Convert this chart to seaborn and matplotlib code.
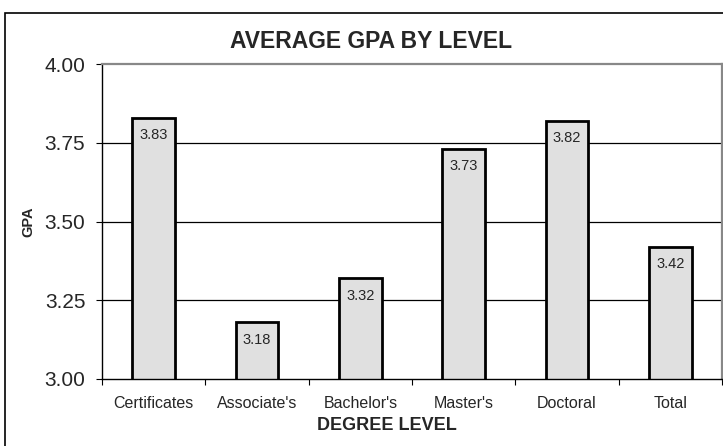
import matplotlib
matplotlib.use("Agg")
import numpy as np
import pandas as pd
import matplotlib.pyplot as plt
import seaborn as sns
from matplotlib.patches import Rectangle

levels = ["Certificates", "Associate's", "Bachelor's", "Master's", "Doctoral", "Total"]
gpa = [3.83, 3.18, 3.32, 3.73, 3.82, 3.42]
yticks = [3.00, 3.25, 3.50, 3.75, 4.00]

df = pd.DataFrame({"level": levels, "gpa": gpa})

sns.set_theme(style="white")
plt.rcParams['font.family'] = ['Liberation Sans', 'DejaVu Sans']

fig = plt.figure(figsize=(7.23, 4.46), dpi=100)
ax = fig.add_axes([102 / 723, 1 - 379 / 446, 620 / 723, 315 / 446])

sns.barplot(data=df, x="level", y="gpa", order=levels, color="#e0e0e0",
            edgecolor="black", linewidth=2.0, width=0.41, saturation=1, ax=ax)

ax.set_ylim(3.0, 4.0)
ax.set_xlim(-0.5, len(levels) - 0.5)
ax.set_yticks(yticks)
ax.set_yticklabels(["%.2f" % v for v in yticks], fontsize=15)
for v in yticks[1:-1]:
    ax.axhline(v, color="black", linewidth=0.9, zorder=0)

# bar labels inside the top of each bar
for i, v in enumerate(gpa):
    ax.annotate("%.2f" % v, (i, v), xytext=(0, -12.5), textcoords="offset points",
                ha="center", va="center", fontsize=10.5)

ax.set_xticks(range(len(levels)))
ax.set_xticklabels(levels, fontsize=11.5)
ax.set_xticks(np.arange(-0.5, len(levels)), minor=True)
ax.tick_params(axis="x", which="major", length=0, pad=12)
ax.tick_params(axis="x", which="minor", length=4, width=0.8, color="black", bottom=True)
ax.tick_params(axis="y", length=4, width=0.8, color="black", left=True, pad=8)

for s in ["left", "bottom"]:
    ax.spines[s].set_color("black")
    ax.spines[s].set_linewidth(1.0)
for s in ["top", "right"]:
    ax.spines[s].set_color("#888888")
    ax.spines[s].set_linewidth(1.6)

ax.set_xlabel("DEGREE LEVEL", fontsize=13, fontweight="bold", va="center")
ax.xaxis.set_label_coords((387 - 102) / 620, (379 - 426) / 315)
ax.set_ylabel("GPA", fontsize=10.5, fontweight="bold", labelpad=6.5)
fig.text(371.5 / 723, 1 - 42 / 446, "AVERAGE GPA BY LEVEL", ha="center", va="center",
         fontsize=16.5, fontweight="bold")

# outer chart border
fig.patches.append(Rectangle((5 / 723, -0.05), 1.0, 1 - 13 / 446 + 0.05,
                             transform=fig.transFigure, fill=False,
                             edgecolor="black", linewidth=1.2))

fig.savefig("out.png", dpi=100)
